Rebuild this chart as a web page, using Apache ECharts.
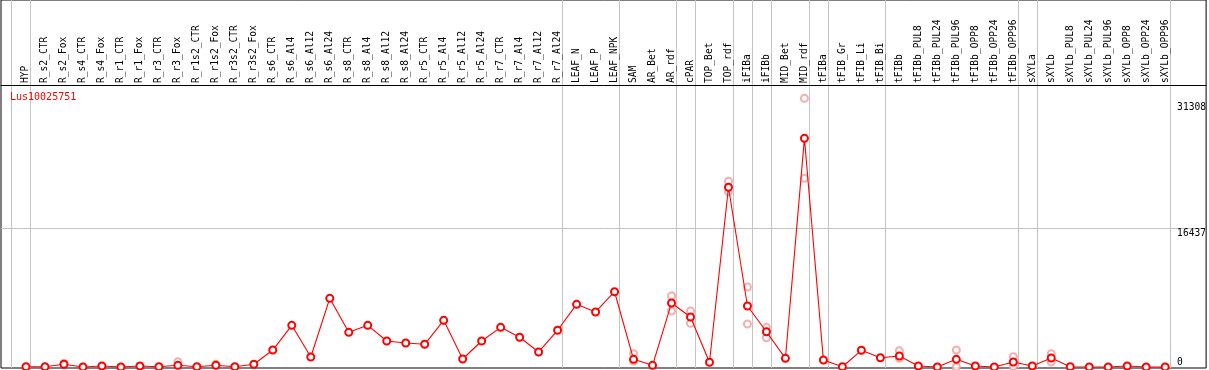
<!DOCTYPE html>
<html>
<head>
<meta charset="utf-8">
<script src="https://cdn.jsdelivr.net/npm/echarts@6/dist/echarts.min.js"></script>
<style>
  html, body { margin: 0; padding: 0; background: #fff; }
  #main { width: 1209px; height: 370px; }
</style>
</head>
<body>
<div id="main"></div>
<script>
// 样本名称（x轴类别）
var categories = [
  'HYP', 'R_s2_CTR', 'R_s2_Fox', 'R_s4_CTR', 'R_s4_Fox', 'R_r1_CTR', 'R_r1_Fox', 'R_r3_CTR', 'R_r3_Fox',
  'R_r1s2_CTR', 'R_r1s2_Fox', 'R_r3s2_CTR', 'R_r3s2_Fox', 'R_s6_CTR', 'R_s6_Al4', 'R_s6_Al12', 'R_s6_Al24',
  'R_s8_CTR', 'R_s8_Al4', 'R_s8_Al12', 'R_s8_Al24', 'R_r5_CTR', 'R_r5_Al4', 'R_r5_Al12', 'R_r5_Al24',
  'R_r7_CTR', 'R_r7_Al4', 'R_r7_Al12', 'R_r7_Al24', 'LEAF_N', 'LEAF_P', 'LEAF_NPK', 'SAM', 'AR_Bet', 'AR_rdf',
  'cPAR', 'TOP_Bet', 'TOP_rdf', 'iFIBa', 'iFIBb', 'MID_Bet', 'MID_rdf', 'tFIBa', 'tFIB_Gr', 'tFIB_Li', 'tFIB_Bi',
  'tFIBb', 'tFIBb_PUL8', 'tFIBb_PUL24', 'tFIBb_PUL96', 'tFIBb_OPP8', 'tFIBb_OPP24', 'tFIBb_OPP96',
  'sXYLa', 'sXYLb', 'sXYLb_PUL8', 'sXYLb_PUL24', 'sXYLb_PUL96', 'sXYLb_OPP8', 'sXYLb_OPP24', 'sXYLb_OPP96'
];
// 平均表达量
var meanValues = [
  30, 30, 320, 0, 120, 0, 120, 35, 200,
  35, 200, 35, 320, 2010, 4940, 1185, 8140,
  4110, 4940, 3080, 2840, 2690, 5530, 950, 3080,
  4700, 3520, 1780, 4350, 7430, 6520, 8920, 910, 200, 7580,
  5930, 560, 21300, 7230, 4180, 1030, 27100, 830, 35, 1980, 1100,
  1300, 120, 0, 910, 120, 0, 590,
  120, 1070, 35, 0, 0, 120, 0, 0
];
// 重复样本（高/低），null = 与平均值重合
var repHigh = [
  null, null, 420, null, null, null, null, null, 630,
  null, 330, null, null, null, null, null, null,
  null, null, null, null, null, null, null, null,
  null, null, null, null, null, null, null, 1580, null, 8410,
  6640, null, 22010, 9480, 4700, null, 31840, null, null, null, null,
  1930, null, null, 2010, null, null, 1220,
  null, 1580, null, null, null, null, null, null
];
var repLow = [
  null, null, null, null, null, null, null, null, null,
  null, null, null, null, null, null, null, null,
  null, null, null, null, null, null, null, null,
  null, null, null, null, null, null, null, 710, null, 6640,
  5180, null, 20780, 5100, 3470, null, 22360, null, null, null, null,
  1030, null, null, 0, null, null, 35,
  null, 590, null, null, null, null, null, null
];
// 每组最后一个样本的序号（灰色分隔线）
var groupEnds = [-1, 0, 28, 31, 34, 35, 37, 38, 39, 41, 42, 45, 52, 53, 60];
// y轴刻度
var yTickLabels = [0, 16437, 31308];
var yGridLines = [16437];
var geneName = 'Lus10025751';

var FONT = 'DejaVu Sans Mono';

function toPoints(arr) {
  var out = [];
  for (var i = 0; i < arr.length; i++) {
    if (arr[i] !== null) out.push([i, arr[i]]);
  }
  return out;
}
var labelIdx = categories.map(function (c, i) { return i; });
var sepValues = groupEnds.map(function (g) { return g + 0.25; });

var myChart = echarts.init(document.getElementById('main'), null, { renderer: 'canvas' });

var option = {
  animation: false,
  backgroundColor: '#fff',
  title: {
    text: geneName,
    left: 10,
    top: 92,
    padding: 0,
    textStyle: { color: '#ff0000', fontSize: 10, fontFamily: FONT, fontWeight: 'normal' }
  },
  grid: {
    left: 1, right: 2, top: 0, bottom: 2,
    show: true, borderColor: '#000', borderWidth: 1, backgroundColor: '#fff'
  },
  xAxis: {
    type: 'value',
    position: 'top',
    offset: -85,
    min: -25 / 19,
    max: 1206 / 19 - 25 / 19,
    axisLine: { show: true, onZero: false, lineStyle: { color: '#000', width: 1 } },
    axisTick: { show: false, customValues: sepValues },
    splitLine: { show: true, lineStyle: { color: '#c4c4c4', width: 1 } },
    axisLabel: {
      customValues: labelIdx,
      rotate: -90,
      margin: 2,
      color: '#000',
      fontSize: 9.6,
      fontFamily: FONT,
      formatter: function (v) { return categories[Math.round(v)]; }
    }
  },
  yAxis: {
    type: 'value',
    position: 'right',
    min: -118,
    max: 43494,
    axisLine: { show: false },
    axisTick: { show: false, customValues: yGridLines },
    splitLine: { show: true, lineStyle: { color: '#c4c4c4', width: 1 } },
    axisLabel: {
      customValues: yTickLabels,
      inside: true,
      align: 'left',
      margin: 29,
      verticalAlign: 'top',
      verticalAlignMinLabel: 'bottom',
      color: '#000',
      fontSize: 9.6,
      fontFamily: FONT,
      formatter: function (v) { return String(v); }
    }
  },
  series: [
    {
      name: 'rep1',
      type: 'scatter',
      symbol: 'emptyCircle',
      symbolSize: 7,
      itemStyle: { color: '#f29a9a', borderWidth: 1.3 },
      data: toPoints(repHigh),
      z: 2
    },
    {
      name: 'rep2',
      type: 'scatter',
      symbol: 'emptyCircle',
      symbolSize: 7,
      itemStyle: { color: '#f29a9a', borderWidth: 1.3 },
      data: toPoints(repLow),
      z: 2
    },
    {
      name: 'mean',
      type: 'line',
      symbol: 'emptyCircle',
      symbolSize: 7,
      showAllSymbol: true,
      lineStyle: { color: '#ff0000', width: 1.1 },
      itemStyle: { color: '#ff0000', borderWidth: 1.8 },
      data: toPoints(meanValues),
      z: 3
    }
  ]
};

myChart.setOption(option);
</script>
</body>
</html>
